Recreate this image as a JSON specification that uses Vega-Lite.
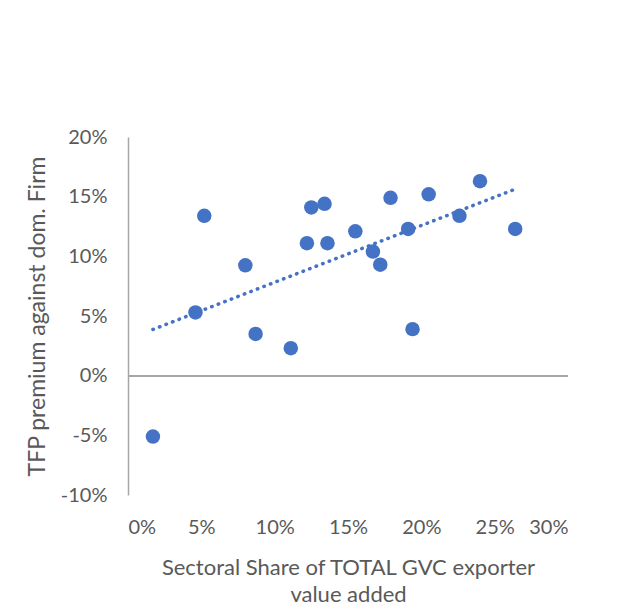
{
  "$schema": "https://vega.github.io/schema/vega-lite/v6.json",
  "autosize": "none",
  "width": 440,
  "height": 358,
  "padding": {"left": 128, "top": 137, "right": 50, "bottom": 120},
  "background": "white",
  "config": {
    "view": {"stroke": null},
    "font": "Lato",
    "axis": {"labelFont": "Lato", "titleFont": "Lato", "labelColor": "#595959", "titleColor": "#595959", "labelFontSize": 20, "titleFontSize": 23, "titleFontWeight": "normal", "grid": false, "ticks": false}
  },
  "data": {"values": [
    {"share": 0.017, "tfp": -0.051},
    {"share": 0.046, "tfp": 0.053},
    {"share": 0.052, "tfp": 0.134},
    {"share": 0.080, "tfp": 0.0925},
    {"share": 0.087, "tfp": 0.035},
    {"share": 0.111, "tfp": 0.023},
    {"share": 0.122, "tfp": 0.111},
    {"share": 0.125, "tfp": 0.141},
    {"share": 0.134, "tfp": 0.144},
    {"share": 0.136, "tfp": 0.111},
    {"share": 0.155, "tfp": 0.121},
    {"share": 0.167, "tfp": 0.104},
    {"share": 0.172, "tfp": 0.093},
    {"share": 0.179, "tfp": 0.149},
    {"share": 0.191, "tfp": 0.123},
    {"share": 0.194, "tfp": 0.039},
    {"share": 0.205, "tfp": 0.152},
    {"share": 0.226, "tfp": 0.134},
    {"share": 0.240, "tfp": 0.163},
    {"share": 0.264, "tfp": 0.123}
  ]},
  "layer": [
    {
      "mark": {"type": "rule", "color": "#a6a6a6", "strokeWidth": 1.5},
      "encoding": {"y": {"datum": 0, "type": "quantitative"}}
    },
    {
      "mark": {"type": "circle", "size": 210, "opacity": 1, "color": "#4472C4"},
      "encoding": {
        "x": {"field": "share", "type": "quantitative",
          "scale": {"domain": [0, 0.3], "nice": false, "zero": false},
          "axis": {"format": ".0%", "labelExpr": "replace(datum.label, '−', '-')", "values": [0, 0.05, 0.1, 0.15, 0.2, 0.25, 0.3], "domain": false, "labelPadding": 22,
            "title": ["Sectoral Share of TOTAL GVC exporter", "value added"], "titleFontSize": 22, "titleLineHeight": 27, "titlePadding": 20}},
        "y": {"field": "tfp", "type": "quantitative",
          "scale": {"domain": [-0.1, 0.2], "nice": false, "zero": false},
          "axis": {"format": ".0%", "labelExpr": "replace(datum.label, '−', '-')", "values": [-0.1, -0.05, 0, 0.05, 0.1, 0.15, 0.2], "domain": true, "domainColor": "#a6a6a6", "domainWidth": 1.5, "labelPadding": 21,
            "title": "TFP premium against dom. Firm", "titlePadding": 11}}
      }
    },
    {
      "transform": [{"regression": "tfp", "on": "share"}],
      "mark": {"type": "line", "color": "#4472C4", "strokeWidth": 3.5, "strokeDash": [0.5, 6.5], "strokeCap": "round"},
      "encoding": {
        "x": {"field": "share", "type": "quantitative"},
        "y": {"field": "tfp", "type": "quantitative"}
      }
    }
  ]
}
